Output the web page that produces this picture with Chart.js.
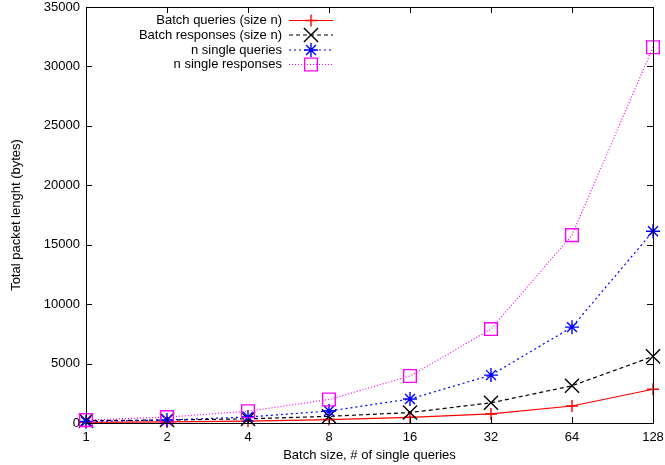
<!DOCTYPE html>
<html>
<head>
<meta charset="utf-8">
<script src="https://cdn.jsdelivr.net/npm/chart.js@4"></script>
<style>
  html, body { margin: 0; padding: 0; background: #fff; }
  #wrap { width: 665px; height: 465px; }
</style>
</head>
<body>
<div id="wrap"><canvas id="c" width="665" height="465"></canvas></div>
<script>
// Packet sizes per batch size
var batchSizes = ['1', '2', '4', '8', '16', '32', '64', '128'];
var batchQueries = [60, 90, 150, 290, 480, 760, 1430, 2840];
var batchResponses = [200, 250, 350, 560, 880, 1700, 3130, 5600];
var singleQueries = [126, 252, 504, 1008, 2016, 4032, 8064, 16128];
var singleResponses = [247, 494, 988, 1976, 3952, 7904, 15808, 31616];
var yTicks = [0, 5000, 10000, 15000, 20000, 25000, 30000, 35000];

var FONT = '"Liberation Sans", Arial, Helvetica, sans-serif';
var FSIZE = 13;

function series(label, data, color, dash, style, radius, order) {
    return {
        label: label,
        data: data,
        borderColor: color,
        backgroundColor: 'rgba(0,0,0,0)',
        borderWidth: 1.2,
        borderDash: dash,
        pointStyle: style,
        pointRadius: radius,
        pointBorderColor: color,
        pointBorderWidth: 1.4,
        pointBackgroundColor: 'rgba(0,0,0,0)',
        fill: false,
        tension: 0,
        clip: false,
        order: order
    };
}

var datasets = [
    series('Batch queries (size n)', batchQueries, '#ff0000', [], 'cross', 6, 4),
    series('Batch responses (size n)', batchResponses, '#000000', [4, 3], 'crossRot', 10, 3),
    series('n single queries', singleQueries, '#0000ff', [2, 3], 'star', 7, 2),
    series('n single responses', singleResponses, '#ff00ff', [1, 2], 'rect', 9, 1)
];

// Frame, tick labels, inward ticks on all sides, and gnuplot-like key
var framePlugin = {
    id: 'frame',
    afterDraw: function (chart) {
        var ctx = chart.ctx;
        var a = chart.chartArea;
        var xs = chart.scales.x, ys = chart.scales.y;
        ctx.save();
        ctx.strokeStyle = '#000';
        ctx.lineWidth = 1;
        ctx.setLineDash([]);
        ctx.strokeRect(a.left + 0.5, a.top + 0.5, a.right - a.left, a.bottom - a.top);
        var len = 6;
        ctx.beginPath();
        for (var i = 0; i < batchSizes.length; i++) {
            var x = Math.round(xs.getPixelForValue(i)) + 0.5;
            ctx.moveTo(x, a.bottom); ctx.lineTo(x, a.bottom - len);
            ctx.moveTo(x, a.top); ctx.lineTo(x, a.top + len);
        }
        for (var j = 0; j < yTicks.length; j++) {
            var y = Math.round(ys.getPixelForValue(yTicks[j])) + 0.5;
            ctx.moveTo(a.left, y); ctx.lineTo(a.left + len, y);
            ctx.moveTo(a.right, y); ctx.lineTo(a.right - len, y);
        }
        ctx.stroke();

        // tick labels
        ctx.font = FSIZE + 'px ' + FONT;
        ctx.fillStyle = '#000';
        ctx.textBaseline = 'middle';
        ctx.textAlign = 'center';
        for (var m = 0; m < batchSizes.length; m++) {
            ctx.fillText(batchSizes[m], xs.getPixelForValue(m), a.bottom + 14);
        }
        ctx.textAlign = 'right';
        for (var n = 0; n < yTicks.length; n++) {
            ctx.fillText(String(yTicks[n]), a.left - 6, ys.getPixelForValue(yTicks[n]));
        }

        // key
        var textRight = 282, lineL = 289, lineR = 333, markX = 311;
        var rowY = [20.5, 35, 50, 64.5];
        for (var k = 0; k < datasets.length; k++) {
            var ds = datasets[k];
            ctx.fillStyle = '#000';
            ctx.fillText(ds.label, textRight, rowY[k]);
            ctx.strokeStyle = ds.borderColor;
            ctx.lineWidth = ds.borderWidth;
            ctx.setLineDash(ds.borderDash);
            ctx.beginPath();
            ctx.moveTo(lineL, rowY[k]); ctx.lineTo(lineR, rowY[k]);
            ctx.stroke();
            ctx.setLineDash([]);
            ctx.lineWidth = ds.pointBorderWidth;
            ctx.fillStyle = 'rgba(0,0,0,0)';
            Chart.helpers.drawPoint(ctx, {
                pointStyle: ds.pointStyle,
                radius: ds.pointRadius,
                rotation: 0,
                borderWidth: ds.pointBorderWidth
            }, markX, rowY[k]);
        }
        ctx.restore();
    }
};

new Chart(document.getElementById('c'), {
    type: 'line',
    data: { labels: batchSizes, datasets: datasets },
    options: {
        responsive: false,
        animation: false,
        devicePixelRatio: 1,
        layout: { autoPadding: false, padding: { left: 0, right: 12, top: 7, bottom: 0 } },
        plugins: {
            legend: { display: false },
            tooltip: { enabled: false },
            title: { display: false }
        },
        scales: {
            x: {
                type: 'category',
                offset: false,
                grid: { display: false, drawTicks: false },
                border: { display: false },
                ticks: { display: false },
                title: {
                    display: true,
                    text: 'Batch size, # of single queries',
                    color: '#000',
                    font: { family: FONT, size: FSIZE },
                    padding: { top: 0, bottom: 2 }
                },
                afterFit: function (s) { s.height = 42; }
            },
            y: {
                min: 0,
                max: 35000,
                grid: { display: false, drawTicks: false },
                border: { display: false },
                ticks: { display: false, stepSize: 5000 },
                title: {
                    display: true,
                    text: 'Total packet lenght (bytes)',
                    color: '#000',
                    font: { family: FONT, size: FSIZE },
                    padding: { top: 9, bottom: 0 }
                },
                afterFit: function (s) { s.width = 86; }
            }
        }
    },
    plugins: [framePlugin]
});
</script>
</body>
</html>
